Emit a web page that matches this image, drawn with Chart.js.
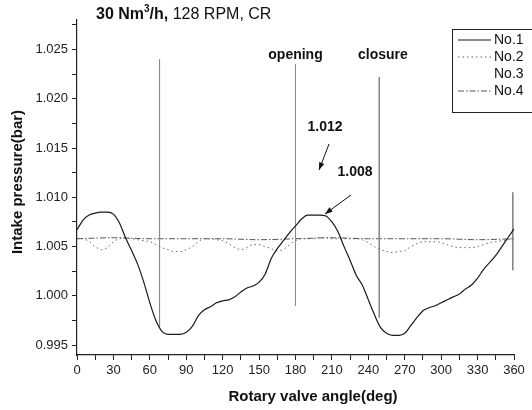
<!DOCTYPE html>
<html>
<head>
<meta charset="utf-8">
<script src="https://cdn.jsdelivr.net/npm/chart.js@4.4.1/dist/chart.umd.min.js"></script>
<style>
  html, body { margin: 0; padding: 0; background: #fff; }
  #wrap { width: 532px; height: 410px; }
</style>
</head>
<body>
<div id="wrap"><canvas id="chart" width="532" height="410"></canvas></div>
<script>
// --- Data ---
const angles = [0, 5, 10, 15, 20, 25, 30, 35, 40, 45, 50, 55, 60, 65, 70, 75, 80, 85, 90,
  95, 100, 105, 110, 115, 120, 125, 130, 135, 140, 145, 150, 155, 160, 165, 170, 175, 180,
  185, 190, 195, 200, 205, 210, 215, 220, 225, 230, 235, 240, 245, 250, 255, 260, 265, 270,
  275, 280, 285, 290, 295, 300, 305, 310, 315, 320, 325, 330, 335, 340, 345, 350, 355, 360];

const no1 = [1.0067, 1.0077, 1.0082, 1.0084, 1.0085, 1.0085, 1.0083, 1.0074, 1.0059, 1.0046,
  1.0032, 1.0014, 0.9993, 0.9975, 0.9964, 0.9961, 0.9961, 0.9961, 0.9963,
  0.9969, 0.9980, 0.9986, 0.9989, 0.9993, 0.9995, 0.9996, 0.9999, 1.0004, 1.0008, 1.0010,
  1.0014, 1.0022, 1.0038, 1.0048, 1.0056, 1.0064, 1.0071,
  1.0078, 1.0082, 1.0082, 1.0082, 1.0081, 1.0075, 1.0065, 1.0050, 1.0036, 1.0021, 1.0011,
  0.9996, 0.9981, 0.9968, 0.9962, 0.9960, 0.9960, 0.9962,
  0.9970, 0.9978, 0.9985, 0.9988, 0.9990, 0.9993, 0.9996, 0.9999, 1.0002, 1.0007, 1.0011,
  1.0018, 1.0027, 1.0034, 1.0041, 1.0050, 1.0059, 1.0068];

const no2 = [1.0058, 1.0058, 1.0055, 1.0050, 1.0047, 1.0049, 1.0055, 1.0058, 1.0059, 1.0058,
  1.0057, 1.0056, 1.0055, 1.0052, 1.0049, 1.0047, 1.0045, 1.0045, 1.0047,
  1.0050, 1.0055, 1.0058, 1.0058, 1.0057, 1.0056, 1.0053, 1.0049, 1.0047, 1.0049, 1.0052,
  1.0052, 1.0050, 1.0048, 1.0046, 1.0047, 1.0052, 1.0056,
  1.0058, 1.0058, 1.0058, 1.0059, 1.0059, 1.0058, 1.0058, 1.0058, 1.0058, 1.0058, 1.0057,
  1.0054, 1.0050, 1.0047, 1.0045, 1.0044, 1.0045, 1.0046,
  1.0050, 1.0053, 1.0055, 1.0055, 1.0055, 1.0054, 1.0052, 1.0050, 1.0049, 1.0049, 1.0049,
  1.0050, 1.0052, 1.0054, 1.0055, 1.0056, 1.0057, 1.0058];

// vertical marker traces (null breaks the line)
const angles3 = [68, 68, 68, 180, 180, 180, 249, 249, 249, 359, 359];
const no3 = [1.0240, 0.9968, null, 1.0235, 0.9990, null, 1.0222, 0.9978, null, 1.0105, 1.0026];

const angles4 = [0, 30, 60, 90, 120, 150, 180, 210, 240, 270, 300, 330, 360];
const no4 = [1.0058, 1.0059, 1.0058, 1.0058, 1.0058, 1.0057, 1.0058, 1.0059, 1.0058, 1.0058,
  1.0058, 1.0057, 1.0058];

const xTicks = [];
for (let a = 0; a <= 360; a += 15) xTicks.push(a);
const yTicks = [0.995, 0.9975, 1.000, 1.0025, 1.005, 1.0075, 1.010, 1.0125, 1.015, 1.0175,
  1.020, 1.0225, 1.025, 1.0275];

const seriesNames = ['No.1', 'No.2', 'No.3', 'No.4'];

function pts(xs, ys) {
  return xs.map((x, i) => ({ x: x, y: ys[i] }));
}

const FONT = '"Liberation Sans", Arial, Helvetica, sans-serif';

// texts, arrows and legend drawn on top
const overlay = {
  id: 'overlay',
  afterDraw(chart) {
    const ctx = chart.ctx;
    const xs = chart.scales.x;
    ctx.save();
    ctx.fillStyle = '#111';
    ctx.textBaseline = 'middle';

    // title
    let x = 96;
    const ty = 15;
    ctx.textAlign = 'left';
    ctx.font = 'bold 16px ' + FONT;
    ctx.fillText('30 Nm', x, ty);
    x += ctx.measureText('30 Nm').width;
    ctx.font = 'bold 10px ' + FONT;
    ctx.fillText('3', x, ty - 6);
    x += ctx.measureText('3').width;
    ctx.font = 'bold 16px ' + FONT;
    ctx.fillText('/h,', x, ty);
    x += ctx.measureText('/h,').width;
    ctx.font = '16px ' + FONT;
    ctx.fillText(' 128 RPM, CR', x, ty);

    // annotations
    ctx.textAlign = 'center';
    ctx.font = 'bold 14px ' + FONT;
    ctx.fillText('opening', xs.getPixelForValue(180), 55);
    ctx.fillText('closure', xs.getPixelForValue(252), 55);
    ctx.fillText('1.012', 325, 127);
    ctx.fillText('1.008', 355, 172);

    function arrow(x1, y1, x2, y2) {
      const ang = Math.atan2(y2 - y1, x2 - x1);
      ctx.strokeStyle = '#111';
      ctx.lineWidth = 1;
      ctx.beginPath();
      ctx.moveTo(x1, y1);
      ctx.lineTo(x2, y2);
      ctx.stroke();
      ctx.beginPath();
      ctx.moveTo(x2, y2);
      ctx.lineTo(x2 - 8 * Math.cos(ang - 0.35), y2 - 8 * Math.sin(ang - 0.35));
      ctx.lineTo(x2 - 8 * Math.cos(ang + 0.35), y2 - 8 * Math.sin(ang + 0.35));
      ctx.closePath();
      ctx.fill();
    }
    arrow(329, 144, 319, 170);
    arrow(351, 195, 325, 214);

    // axis titles
    ctx.font = 'bold 15px ' + FONT;
    ctx.fillText('Rotary valve angle(deg)', 313, 397);
    ctx.save();
    ctx.translate(18, 182);
    ctx.rotate(-Math.PI / 2);
    ctx.fillText('Intake pressure(bar)', 0, 0);
    ctx.restore();

    // legend
    const bx = 452, by = 29, bh = 83;
    ctx.strokeStyle = '#222';
    ctx.lineWidth = 1;
    ctx.strokeRect(bx + 0.5, by + 0.5, 120, bh);
    ctx.textAlign = 'left';
    ctx.font = '14px ' + FONT;
    chart.data.datasets.forEach((ds, i) => {
      const ly = by + 11 + i * 17;
      if (ds.legendLine !== false) {
        ctx.save();
        ctx.strokeStyle = ds.borderColor;
        ctx.lineWidth = ds.borderWidth;
        ctx.setLineDash(ds.borderDash || []);
        ctx.beginPath();
        ctx.moveTo(458, ly);
        ctx.lineTo(491, ly);
        ctx.stroke();
        ctx.restore();
      }
      ctx.fillStyle = '#111';
      ctx.fillText(ds.label, 494, ly);
    });
    ctx.restore();
  }
};

new Chart(document.getElementById('chart'), {
  type: 'line',
  data: {
    datasets: [
      {
        label: seriesNames[0],
        data: pts(angles, no1),
        borderColor: '#1a1a1a',
        borderWidth: 1.2,
        cubicInterpolationMode: 'monotone'
      },
      {
        label: seriesNames[1],
        data: pts(angles, no2),
        borderColor: '#666',
        borderWidth: 1,
        borderDash: [1.5, 3],
        cubicInterpolationMode: 'monotone'
      },
      {
        label: seriesNames[2],
        data: pts(angles3, no3),
        borderColor: '#888',
        borderWidth: 1,
        spanGaps: false,
        legendLine: false
      },
      {
        label: seriesNames[3],
        data: pts(angles4, no4),
        borderColor: '#555',
        borderWidth: 1,
        borderDash: [6, 2, 1.5, 2],
        cubicInterpolationMode: 'monotone'
      }
    ]
  },
  options: {
    responsive: false,
    animation: false,
    devicePixelRatio: 1,
    layout: { padding: { top: 20, right: 18, left: 0, bottom: 0 } },
    elements: { point: { radius: 0 }, line: { fill: false } },
    plugins: { legend: { display: false }, tooltip: { enabled: false } },
    scales: {
      x: {
        type: 'linear',
        min: 0,
        max: 360,
        afterBuildTicks: s => { s.ticks = xTicks.map(v => ({ value: v })); },
        afterFit: s => { s.height = 55; },
        ticks: {
          autoSkip: false,
          maxRotation: 0,
          padding: 3,
          color: '#222',
          font: { family: FONT, size: 13 },
          callback: v => (v % 30 === 0 ? String(v) : '')
        },
        grid: { drawOnChartArea: false, tickLength: 5, color: '#222' },
        border: { color: '#222', width: 1.2 }
      },
      y: {
        min: 0.994,
        max: 1.028,
        afterBuildTicks: s => { s.ticks = yTicks.map(v => ({ value: v })); },
        afterFit: s => { s.width = 77; },
        ticks: {
          autoSkip: false,
          padding: 4,
          color: '#222',
          font: { family: FONT, size: 13 },
          callback: v => (Math.abs(v * 200 - Math.round(v * 200)) < 1e-6 ? v.toFixed(3) : '')
        },
        grid: { drawOnChartArea: false, tickLength: 5, color: '#222' },
        border: { color: '#222', width: 1.2 }
      }
    }
  },
  plugins: [overlay]
});
</script>
</body>
</html>
